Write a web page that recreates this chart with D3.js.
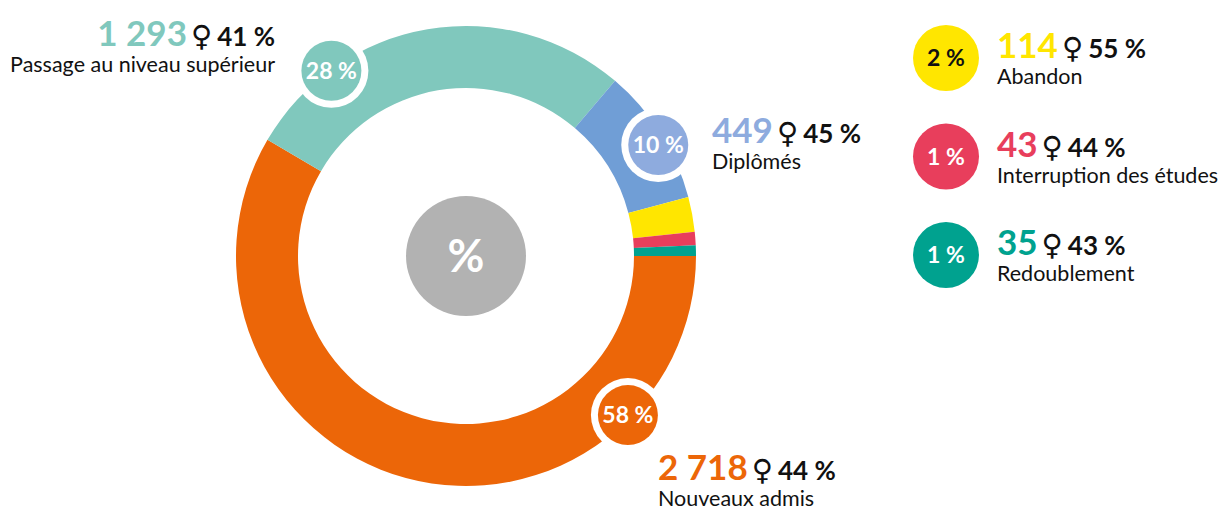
<!DOCTYPE html>
<html>
<head>
<meta charset="utf-8">
<script src="https://cdn.jsdelivr.net/npm/d3@7"></script>
<style>
  body { margin: 0; background: #fff; }
  svg { display: block; font-family: Lato, "Open Sans", sans-serif; }
</style>
</head>
<body>
<div id="chart"></div>
<script>
// data
var categories = ["Nouveaux admis", "Passage au niveau supérieur", "Diplômés", "Abandon", "Interruption des études", "Redoublement"];
var counts = [2718, 1293, 449, 114, 43, 35];
var countLabels = ["2 718", "1 293", "449", "114", "43", "35"];
var shareLabels = ["58 %", "28 %", "10 %", "2 %", "1 %", "1 %"];
var womenLabels = ["44 %", "41 %", "45 %", "55 %", "44 %", "43 %"];

var sliceColors = ["#ec6608", "#80c8bd", "#709ed6", "#ffe600", "#e83e5c", "#00a28f"];
var labelColors = ["#ec6608", "#80c8bd", "#8eabde", "#ffe600", "#e83e5c", "#00a28f"];

var width = 1219, height = 510;
var cx = 466, cy = 256;
var outerR = 230, innerR = 168;

var svg = d3.select("#chart").append("svg")
    .attr("width", width)
    .attr("height", height);

var pie = d3.pie().sort(null)
    .startAngle(Math.PI / 2)
    .endAngle(Math.PI / 2 + 2 * Math.PI);

var arc = d3.arc().innerRadius(innerR).outerRadius(outerR);

var arcs = pie(counts);

var ring = svg.append("g").attr("transform", "translate(" + cx + "," + cy + ")");

ring.selectAll("path")
    .data(arcs)
    .enter().append("path")
    .attr("d", arc)
    .attr("fill", function(d, i) { return sliceColors[i]; });

// centre badge
ring.append("circle").attr("r", 60).attr("fill", "#b2b2b2");
ring.append("text")
    .attr("text-anchor", "middle")
    .attr("y", 16)
    .attr("fill", "#fff")
    .attr("font-size", 45)
    .attr("font-weight", 700)
    .text("%");

// share badges on the ring for the three big slices
var badgeSpots = [
    {i: 0, angle: 134.5, r: 227},
    {i: 1, angle: 324, r: 229},
    {i: 2, angle: 60, r: 222}
];

badgeSpots.forEach(function(b) {
    var a = b.angle * Math.PI / 180;
    var x = b.r * Math.sin(a), y = -b.r * Math.cos(a);
    var g = ring.append("g").attr("transform", "translate(" + x + "," + y + ")");
    g.append("circle").attr("r", 37).attr("fill", "#fff");
    g.append("circle").attr("r", 30).attr("fill", labelColors[b.i]);
    g.append("text")
        .attr("text-anchor", "middle")
        .attr("y", 8)
        .attr("fill", "#fff")
        .attr("font-size", 23)
        .attr("font-weight", 700)
        .text(shareLabels[b.i]);
});

function headline(sel, i) {
    sel.append("tspan")
        .attr("fill", labelColors[i])
        .attr("font-size", 35)
        .attr("font-weight", 700)
        .text(countLabels[i]);
    sel.append("tspan")
        .attr("dx", 4)
        .attr("font-family", "DejaVu Sans")
        .attr("font-size", 29)
        .attr("fill", "#111")
        .text("\u2640");
    sel.append("tspan")
        .attr("dx", 5)
        .attr("font-size", 26)
        .attr("font-weight", 700)
        .attr("fill", "#111")
        .text(womenLabels[i]);
}

// labels next to the ring
var ringLabels = [
    {i: 1, x: 275, y: 46, anchor: "end"},
    {i: 2, x: 712, y: 143, anchor: "start"},
    {i: 0, x: 658, y: 480, anchor: "start"}
];

ringLabels.forEach(function(l) {
    var t = svg.append("text")
        .attr("x", l.x).attr("y", l.y)
        .attr("text-anchor", l.anchor);
    headline(t, l.i);
    svg.append("text")
        .attr("x", l.x).attr("y", l.y + 26)
        .attr("text-anchor", l.anchor)
        .attr("font-size", 21.5)
        .attr("fill", "#111")
        .text(categories[l.i]);
});

// legend for the three small slices
var legendY = d3.scalePoint().domain([3, 4, 5]).range([58, 255]);

[3, 4, 5].forEach(function(i) {
    var y = legendY(i);
    svg.append("circle")
        .attr("cx", 946).attr("cy", y)
        .attr("r", 33)
        .attr("fill", labelColors[i]);
    svg.append("text")
        .attr("x", 946).attr("y", y + 8)
        .attr("text-anchor", "middle")
        .attr("fill", i === 3 ? "#111" : "#fff")
        .attr("font-size", 23)
        .attr("font-weight", 700)
        .text(shareLabels[i]);
    var t = svg.append("text").attr("x", 997).attr("y", y);
    headline(t, i);
    svg.append("text")
        .attr("x", 997).attr("y", y + 26)
        .attr("font-size", 21.5)
        .attr("fill", "#111")
        .text(categories[i]);
});
</script>
</body>
</html>
